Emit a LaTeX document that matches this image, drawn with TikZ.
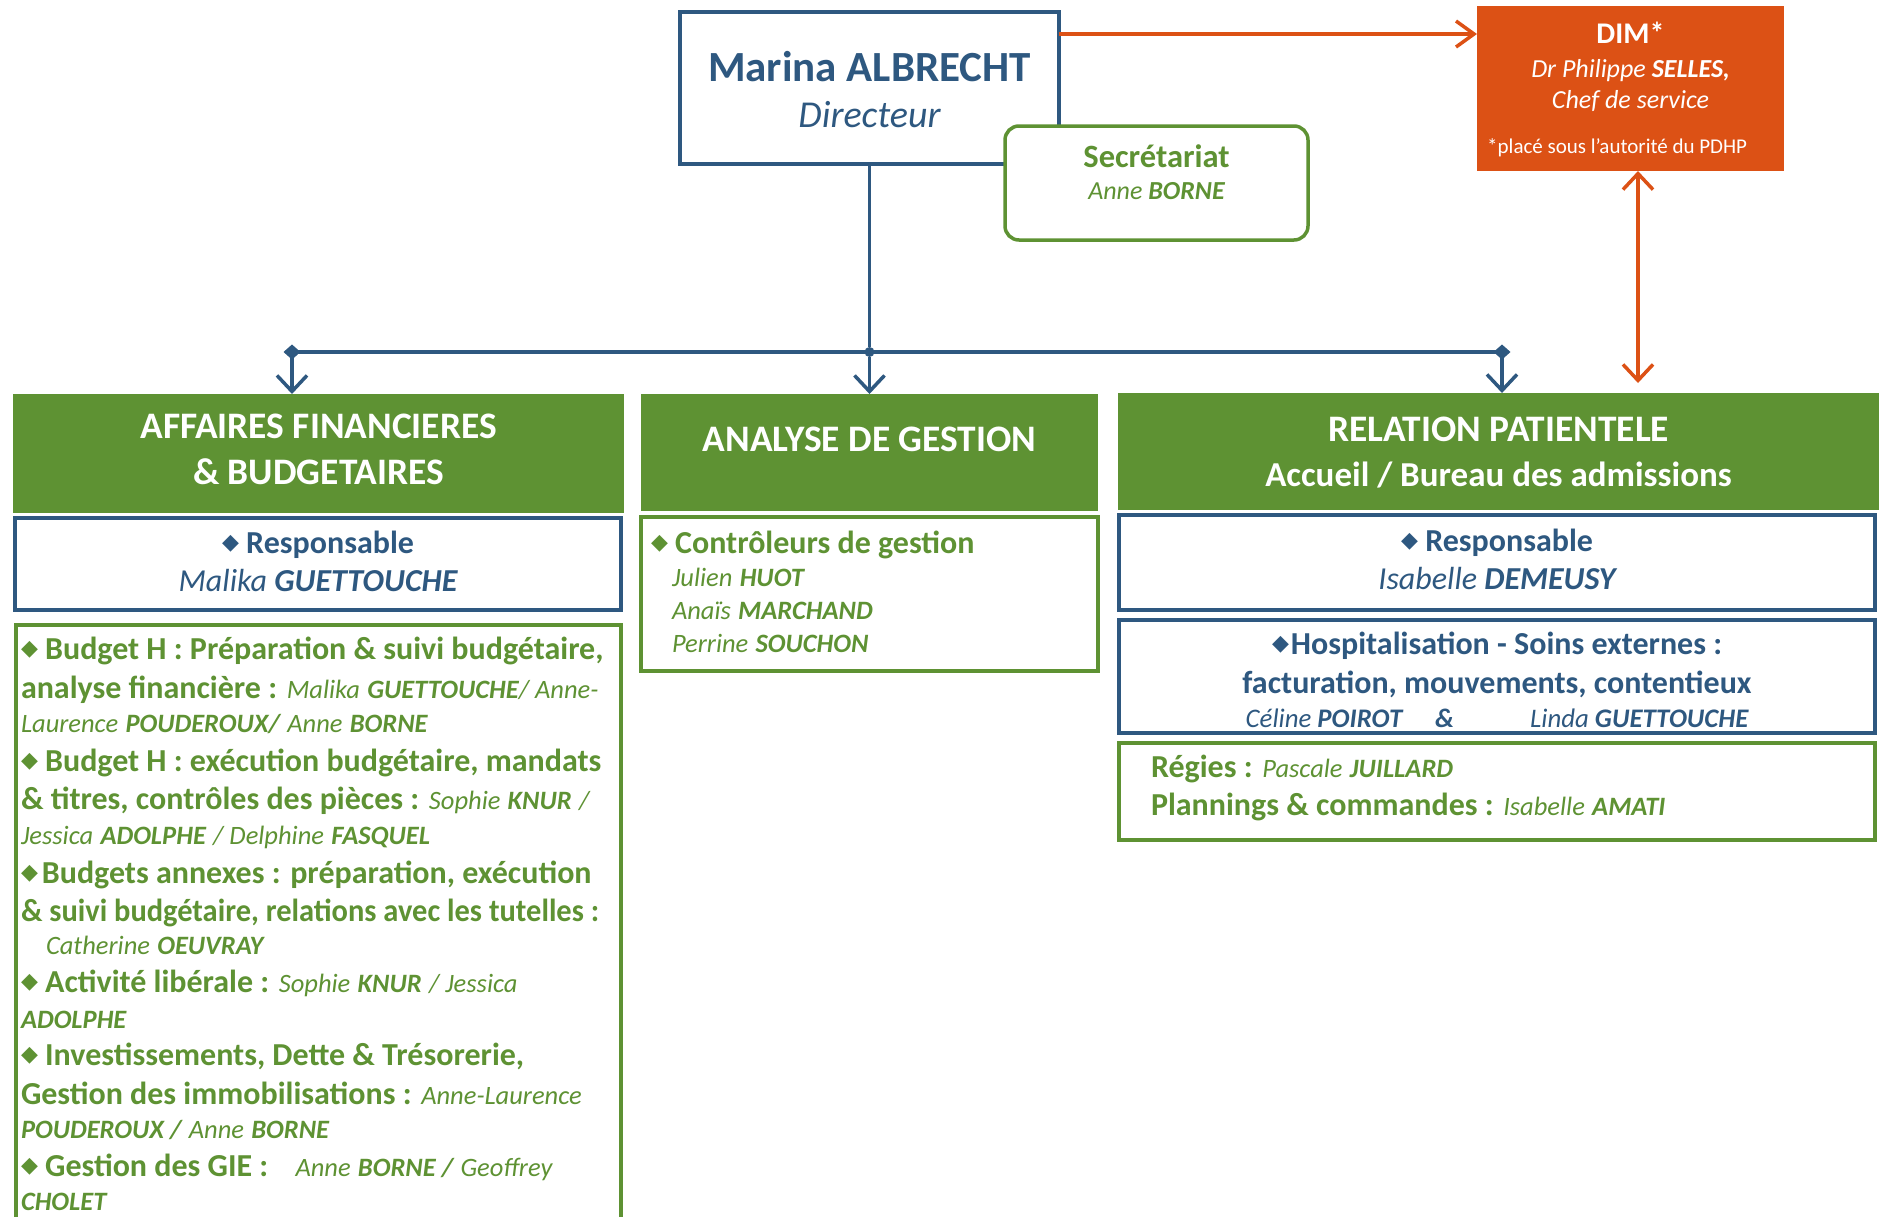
\documentclass[tikz,border=0pt]{standalone}
\usepackage{fontspec}
\usepackage{graphicx}
\setmainfont{Carlito}
\newfontfamily\djv{DejaVu Sans}
\usetikzlibrary{arrows.meta}
\definecolor{cblue}{RGB}{46,88,128}
\definecolor{cgreen}{RGB}{94,146,51}
\definecolor{corange}{RGB}{220,81,21}
\lineskiplimit=-100pt
\newcommand\bul{\raisebox{4pt}{\fontsize{22}{22}\selectfont\djv\char"25C6}}
\newcommand\nmi[1]{{\fontsize{26.5}{26}\selectfont\mdseries\itshape #1}}
\newcommand\nmb[1]{{\fontsize{26.5}{26}\selectfont\bfseries\itshape #1}}
\begin{document}
\begin{tikzpicture}[x=1pt,y=-1pt,
  box/.style={rectangle, inner sep=0pt, outer sep=0pt},
  bluebox/.style={box, draw=cblue, line width=4pt, fill=white},
  greenbox/.style={box, draw=cgreen, line width=3.5pt, fill=white},
  header/.style={box, fill=cgreen},
  ttext/.style={inner sep=0pt, outer sep=0pt, align=flush center, text width=#1},
  ltext/.style={inner sep=0pt, outer sep=0pt, align=flush left, text width=#1, anchor=base west},
  bline/.style={draw=cblue, line width=3.5pt},
  oline/.style={draw=corange, line width=3.5pt},
  hfont/.style={text=white, font=\fontsize{37.4}{46}\selectfont\bfseries}
]
\useasboundingbox (0,0) rectangle (1885,1216);

% Director
\node[box, draw=cblue, line width=3.5pt, fill=white, minimum width=379pt, minimum height=152pt] (dir) at (869.5,88) {};
\node[ttext=370pt, anchor=base, text=cblue, font=\fontsize{43}{46}\selectfont\bfseries] (dirt) at (869.5,81)
  {Marina ALBRECHT\\{\mdseries\itshape\fontsize{38}{46}\selectfont Directeur}};

% Secretariat
\node[box, draw=cgreen, line width=3.5pt, fill=white, rounded corners=14pt, minimum width=303pt, minimum height=114pt] (sec) at (1156.5,183) {};
\node[ttext=290pt, anchor=base, text=cgreen, font=\fontsize{32.5}{32}\selectfont\bfseries] (sect) at (1156.5,167)
  {Secrétariat\\ {\fontsize{26}{26}\selectfont\mdseries\itshape Anne \bfseries BORNE}};

% DIM
\node[box, fill=corange, minimum width=307pt, minimum height=165pt] (dim) at (1630.5,88.5) {};
\node[ttext=300pt, anchor=base, text=white, font=\fontsize{30}{34}\selectfont\bfseries] (dimt) at (1630.5,43)
  {DIM*\\ {\fontsize{26}{26}\selectfont\mdseries\itshape Dr Philippe \bfseries SELLES,}\\[-3pt]{\fontsize{26}{26}\selectfont\mdseries\itshape Chef de service}};
\node[inner sep=0pt, anchor=base west, text=white, font=\fontsize{21}{21}\selectfont] (dimn) at (1487,153) {*placé sous l’autorité du PDHP};

% Headers
\node[header, minimum width=611pt, minimum height=119pt] (af) at (318.5,453.5) {};
\node[ttext=600pt, anchor=base, hfont] (aft) at (318.5,438) {AFFAIRES FINANCIERES\\ \& BUDGETAIRES};
\node[header, minimum width=457pt, minimum height=117pt] (ag) at (869.5,452.5) {};
\node[ttext=450pt, anchor=base, hfont] (agt) at (869.5,451) {ANALYSE DE GESTION};
\node[header, minimum width=761pt, minimum height=117pt] (rp) at (1498.5,451.5) {};
\node[ttext=750pt, anchor=base, hfont] (rpt) at (1498.5,441) {RELATION PATIENTELE\\[-1pt] {\fontsize{35}{46}\selectfont Accueil / Bureau des admissions}};

% Responsable boxes
\node[bluebox, minimum width=606pt, minimum height=92pt] (afr) at (318,564) {};
\node[ttext=600pt, anchor=base, text=cblue, font=\fontsize{32}{38}\selectfont\bfseries] (afrt) at (318,553)
  {\bul\ Responsable\\ {\mdseries\itshape Malika \bfseries GUETTOUCHE}};
\node[bluebox, minimum width=756pt, minimum height=95pt] (rpr) at (1497,562.5) {};
\node[ttext=740pt, anchor=base, text=cblue, font=\fontsize{32}{38}\selectfont\bfseries] (rprt) at (1497,551)
  {\bul\ Responsable\\ {\mdseries\itshape Isabelle \bfseries DEMEUSY}};

% Hospitalisation
\node[bluebox, minimum width=756pt, minimum height=113pt] (hosp) at (1497,676.5) {};
\node[ttext=740pt, anchor=base, text=cblue, font=\fontsize{32}{38}\selectfont\bfseries] (hospt) at (1497,654)
  {\bul\hspace{2pt}Hospitalisation - Soins externes :\\[1pt] facturation, mouvements, contentieux\\[-4pt]
   {\fontsize{26.8}{26}\selectfont\mdseries\itshape Céline \bfseries POIROT\hspace{33pt}\&\hspace{76pt}\mdseries Linda \bfseries GUETTOUCHE}};

% Regies
\node[greenbox, minimum width=756pt, minimum height=97pt] (reg) at (1497,791.5) {};
\node[ltext=740pt, text=cgreen, font=\fontsize{32}{38}\selectfont\bfseries] (regt) at (1151,777)
  {Régies : \nmi{Pascale} \nmb{JUILLARD}\\ Plannings \& commandes : \nmi{Isabelle} \nmb{AMATI}};

% Analyse box
\node[greenbox, minimum width=457pt, minimum height=154pt] (agb) at (869.5,594) {};
\node[ltext=440pt, text=cgreen, font=\fontsize{32}{33}\selectfont\bfseries] (agbt) at (651,553)
  {\bul\ Contrôleurs de gestion\\ \hspace*{21pt}\nmi{Julien} \nmb{HUOT}\\ \hspace*{21pt}\nmi{Anaïs} \nmb{MARCHAND}\\ \hspace*{21pt}\nmi{Perrine} \nmb{SOUCHON}};

% Left list box
\node[greenbox, minimum width=605pt, minimum height=605pt] (afl) at (318.5,927.5) {};
\node[ltext=600pt, text=cgreen, font=\fontsize{32}{38.2}\selectfont\bfseries] (aflt) at (21,659)
{\bul\ Budget H : Préparation \& suivi budgétaire,\\[1pt]
analyse financière : \nmi{Malika} \nmb{GUETTOUCHE}\nmi{/ Anne-}\\[-4pt]
\nmi{Laurence} \nmb{POUDEROUX/} \nmi{Anne} \nmb{BORNE}\\[1pt]
\bul\ Budget H : exécution budgétaire, mandats\\[0pt]
\& titres, contrôles des pièces : \nmi{Sophie} \nmb{KNUR} \nmi{/}\\[-4pt]
\nmi{Jessica} \nmb{ADOLPHE} \nmi{/ Delphine} \nmb{FASQUEL}\\[1pt]
\bul\hspace{4pt}Budgets annexes : préparation, exécution\\[0pt]
\scalebox{0.952}[1]{\& suivi budgétaire, relations avec les tutelles :}\\[-5pt]
\hspace*{25pt}\nmi{Catherine} \nmb{OEUVRAY}\\[0pt]
\bul\ Activité libérale : \nmi{Sophie} \nmb{KNUR} \nmi{/ Jessica}\\[-3pt]
\nmb{ADOLPHE}\\[-1pt]
\bul\ Investissements, Dette \& Trésorerie,\\[1pt]
Gestion des immobilisations : \nmi{Anne-Laurence}\\[-4pt]
\nmb{POUDEROUX /} \nmi{Anne} \nmb{BORNE}\\[0pt]
\bul\ Gestion des GIE : \hspace{20pt}\nmi{Anne} \nmb{BORNE /} \nmi{Geoffrey}\\[-5pt]
\nmb{CHOLET}};

% Connectors
\node[circle, fill=cblue, inner sep=0pt, minimum size=10pt] (jm) at (869.5,352) {};
\coordinate (jl) at (292,352);
\coordinate (jr) at (1502,352);
\draw[bline] (dir.south) -- (jm);
\draw[bline, {Diamond[length=17pt,width=15pt]}-{Diamond[length=17pt,width=15pt]}] ([xshift=-8.5pt]jl) -- ([xshift=8.5pt]jr);
\draw[bline, -{Straight Barb[length=16pt,width=30pt]}] (jl) -- (jl |- af.north);
\draw[bline, -{Straight Barb[length=16pt,width=30pt]}] (jm) -- (ag.north);
\draw[bline, -{Straight Barb[length=16pt,width=30pt]}] (jr) -- (jr |- rp.north);
\draw[oline, -{Straight Barb[length=18pt,width=26pt]}] ([yshift=-22pt]dir.north east) -- ([yshift=-22pt]dir.north east -| dim.west);
\draw[oline, {Straight Barb[length=16pt,width=30pt]}-{Straight Barb[length=16pt,width=30pt]}, shorten >=10pt] ([xshift=7.5pt]dim.south) -- ([xshift=7.5pt]dim.south |- rp.north);
\end{tikzpicture}
\end{document}
